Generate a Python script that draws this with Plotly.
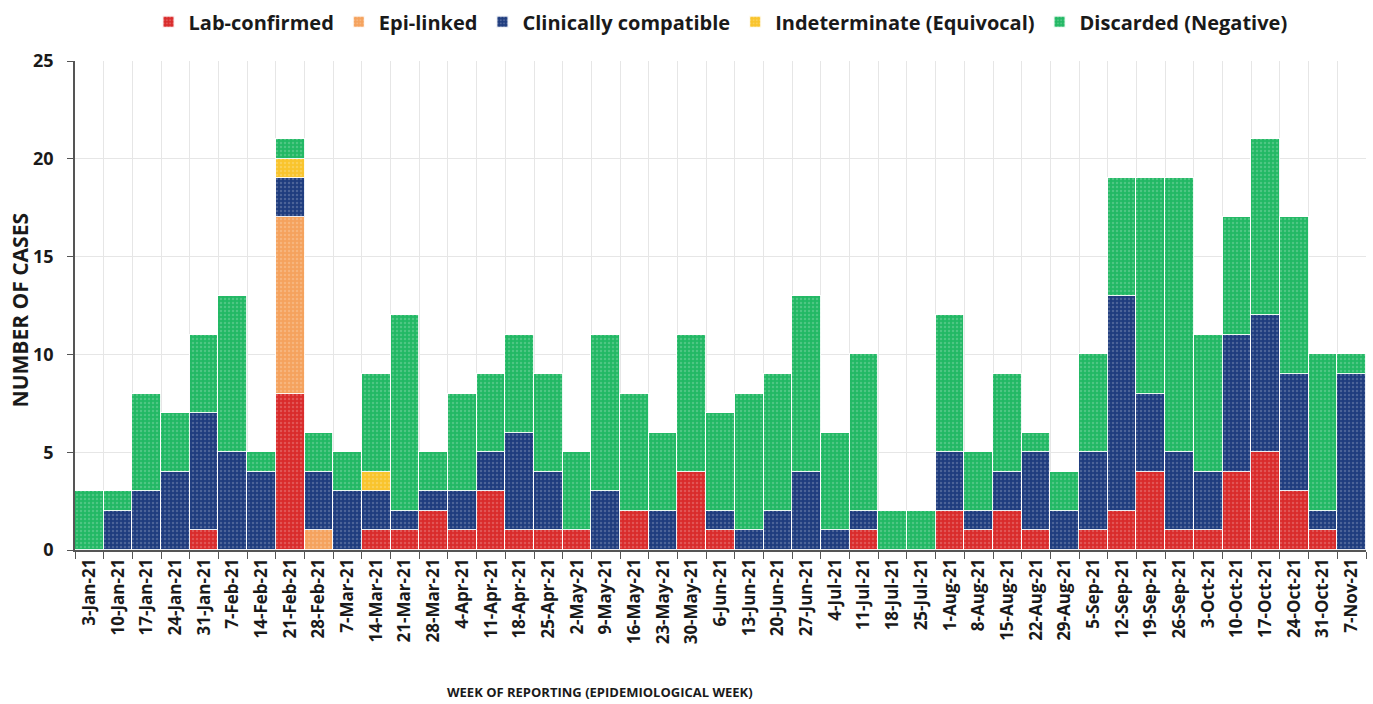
import plotly.graph_objects as go

weeks = ["3-Jan-21","10-Jan-21","17-Jan-21","24-Jan-21","31-Jan-21","7-Feb-21","14-Feb-21",
         "21-Feb-21","28-Feb-21","7-Mar-21","14-Mar-21","21-Mar-21","28-Mar-21","4-Apr-21",
         "11-Apr-21","18-Apr-21","25-Apr-21","2-May-21","9-May-21","16-May-21","23-May-21",
         "30-May-21","6-Jun-21","13-Jun-21","20-Jun-21","27-Jun-21","4-Jul-21","11-Jul-21",
         "18-Jul-21","25-Jul-21","1-Aug-21","8-Aug-21","15-Aug-21","22-Aug-21","29-Aug-21",
         "5-Sep-21","12-Sep-21","19-Sep-21","26-Sep-21","3-Oct-21","10-Oct-21","17-Oct-21",
         "24-Oct-21","31-Oct-21","7-Nov-21"]

lab_confirmed = [0,0,0,0,1,0,0,8,0,0,1,1,2,1,3,1,1,1,0,2,0,4,1,0,0,0,0,1,0,0,
                 2,1,2,1,0,1,2,4,1,1,4,5,3,1,0]
epi_linked    = [0,0,0,0,0,0,0,9,1,0,0,0,0,0,0,0,0,0,0,0,0,0,0,0,0,0,0,0,0,0,
                 0,0,0,0,0,0,0,0,0,0,0,0,0,0,0]
clinically    = [0,2,3,4,6,5,4,2,3,3,2,1,1,2,2,5,3,0,3,0,2,0,1,1,2,4,1,1,0,0,
                 3,1,2,4,2,4,11,4,4,3,7,7,6,1,9]
indeterminate = [0,0,0,0,0,0,0,1,0,0,1,0,0,0,0,0,0,0,0,0,0,0,0,0,0,0,0,0,0,0,
                 0,0,0,0,0,0,0,0,0,0,0,0,0,0,0]
discarded     = [3,1,5,3,4,8,1,1,2,2,5,10,2,5,4,5,5,4,8,6,4,7,5,7,7,9,5,8,2,2,
                 7,3,5,1,2,5,6,11,14,7,6,9,8,8,1]

series = [
    ("Lab-confirmed", lab_confirmed, "#D92B2B"),
    ("Epi-linked", epi_linked, "#F5A25D"),
    ("Clinically compatible", clinically, "#1F3C7E"),
    ("Indeterminate (Equivocal)", indeterminate, "#F9C42C"),
    ("Discarded (Negative)", discarded, "#22B864"),
]

FONT = "Open Sans"
TXT = "#1a1a1a"

fig = go.Figure()
for name, vals, col in series:
    fig.add_trace(go.Bar(
        x=weeks, y=vals, name=name,
        marker=dict(color=col,
                    line=dict(color="rgba(255,255,255,0.9)", width=1),
                    pattern=dict(shape=".", fgcolor="rgba(255,255,255,0.4)",
                                 size=4, solidity=0.3)),
    ))

fig.update_layout(
    barmode="stack", bargap=0,
    width=1373, height=704,
    margin=dict(l=75, r=7, t=61, b=154, autoexpand=False),
    paper_bgcolor="white", plot_bgcolor="white",
    font=dict(family=FONT, color=TXT),
    legend=dict(orientation="h", x=0.5, xanchor="center",
                yref="container", y=0.969, yanchor="middle",
                font=dict(size=20, family=FONT, color=TXT, weight="bold"),
                itemsizing="constant", traceorder="normal"),
    xaxis=dict(type="category", tickson="boundaries", tickangle=-90,
               tickfont=dict(size=17, family=FONT, color=TXT, weight="bold"),
               showgrid=True, gridcolor="#e6e6e6", gridwidth=1,
               showline=True, linecolor="#555", linewidth=1.5,
               ticks="outside", ticklen=7, tickcolor="#555",
               range=[-0.5, len(weeks) - 0.5], automargin=False),
    yaxis=dict(range=[0, 25], dtick=5, tickfont=dict(size=18, family=FONT, color=TXT, weight="bold"),
               showgrid=True, gridcolor="#e6e6e6", gridwidth=1,
               showline=True, linecolor="#555", linewidth=1.5,
               ticks="outside", ticklen=6, tickcolor="#555", zeroline=False,
               ticklabelstandoff=10, automargin=False),
    annotations=[
        dict(text="NUMBER OF CASES", xref="paper", yref="paper", x=-0.0426, y=0.49,
             textangle=-90, showarrow=False, xanchor="center", yanchor="middle",
             font=dict(size=21, family=FONT, color=TXT, weight="bold")),
        dict(text="WEEK OF REPORTING (EPIDEMIOLOGICAL WEEK)", xref="paper", yref="paper",
             x=0.407, y=-0.29, showarrow=False, xanchor="center", yanchor="middle",
             font=dict(size=13, family=FONT, color=TXT, weight="bold")),
    ],
)

fig.write_html("out.html", config={"displayModeBar": False},
               post_script="document.body.style.margin='0';")
